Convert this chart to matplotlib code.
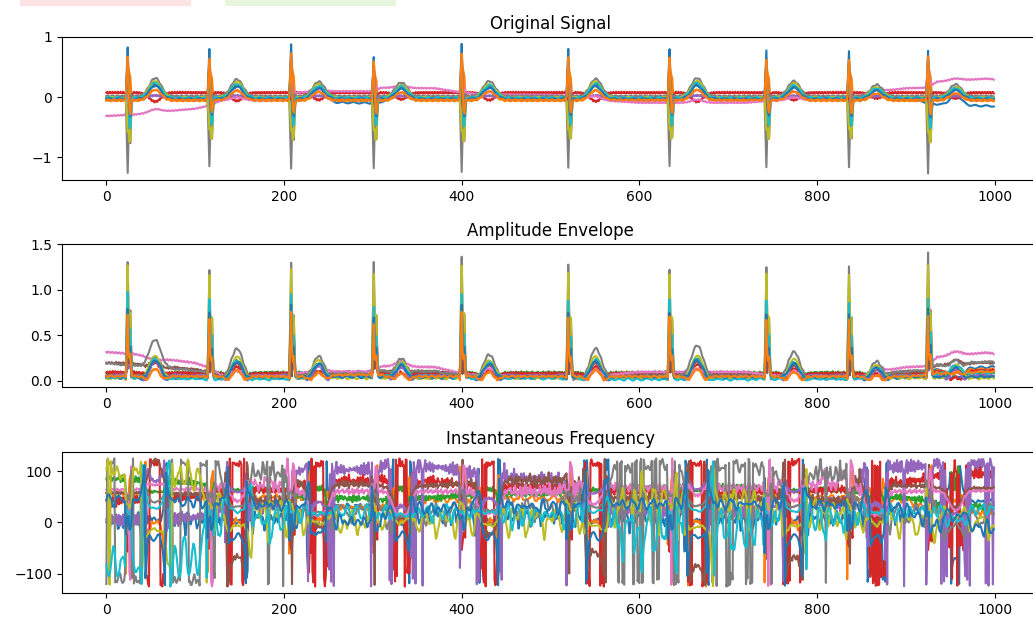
import numpy as np
import matplotlib
matplotlib.use("Agg")
import matplotlib.pyplot as plt
from matplotlib.patches import Rectangle

# ---------------- data ----------------
FS = 250                      # sampling rate (frequency axis spans +-125)
N_SAMPLES = 1000
R_POS = [24, 116, 208, 301, 400, 520, 634, 743, 836, 925]        # R-peak sample index
R_SCALE = [1.00, 0.95, 1.06, 0.88, 1.06, 0.97, 0.97, 0.93, 0.93, 1.00]
S_SCALE = [1.00, 0.90, 0.94, 0.94, 0.98, 0.92, 0.91, 0.91, 0.92, 1.00]
T_SCALE = [1.00, 0.93, 0.80, 0.75, 0.83, 0.95, 1.00, 0.83, 0.63, 0.65]

# per lead (12 leads, tab10 colour cycle order)
QRS_MAIN = [0.88, 0.72, 0.41, -0.12, 0.18, 0.41, 0.38, -1.29, -0.55, 0.43, 0.67, 0.72]
QRS_LATE = [-0.42, 0.44, 0.00, -0.64, -0.29, -0.81, 0.07, 0.04, -0.80, -0.56, -0.34, -0.27]
T_AMP = [0.25, 0.18, 0.22, -0.15, 0.03, 0.25, 0.05, 0.30, 0.28, 0.25, 0.22, 0.17]
OFFSET = [-0.029, -0.061, -0.003, 0.075, -0.002, -0.035, -0.023, 0.018, -0.006, -0.011,
          -0.029, -0.046]
JITTER_HZ = [20, 40, 50, 82, 95, 90, 65, 45, 12, 25, 22, 36]
JITTER_AMP = [0.011, 0.008, 0.011, 0.016, 0.014, 0.014, 0.008, 0.011, 0.011, 0.011, 0.011,
              0.008]

# baseline wander of the pink lead (sample, value)
PINK_X = [0, 30, 60, 100, 115, 130, 200, 215, 250, 300, 310, 370, 400, 420, 500, 530,
          560, 600, 720, 750, 830, 870, 900, 925, 935, 990, 999]
PINK_Y = [-0.29, -0.27, -0.22, -0.17, -0.12, -0.03, -0.02, 0.10, 0.12, 0.12, 0.18, 0.17,
          0.10, 0.07, 0.06, 0.03, -0.03, -0.07, -0.07, -0.03, -0.01, 0.12, 0.17, 0.18,
          0.28, 0.33, 0.32]
# blue lead drift (sample, value)
BLUE_X = [0, 230, 260, 300, 330, 900, 940, 999]
BLUE_Y = [0.00, 0.00, -0.06, -0.07, 0.00, 0.00, -0.10, -0.12]

# ---------------- build signals (samples x leads) ----------------
t = np.arange(N_SAMPLES)


def bump(center, width):
    return np.exp(-0.5 * ((t - center) / width) ** 2)


cols = []
for k in range(12):
    s = np.full(N_SAMPLES, OFFSET[k], dtype=float)
    for r, rs, ss, ts in zip(R_POS, R_SCALE, S_SCALE, T_SCALE):
        s += QRS_MAIN[k] * (rs if QRS_MAIN[k] > 0 else ss) * bump(r, 0.9)
        s += QRS_LATE[k] * (ss if QRS_LATE[k] < 0 else rs) * bump(r + 2.5, 1.0)
        s += T_AMP[k] * ts * bump(r + 31, 6.5)
    s += JITTER_AMP[k] * np.sin(2 * np.pi * JITTER_HZ[k] * t / FS)
    if k == 6:
        s += np.interp(t, PINK_X, PINK_Y)
    if k == 0:
        s += np.interp(t, BLUE_X, BLUE_Y)
    cols.append(s)
signal = np.column_stack(cols)          # shape (1000, 12)


def hilbert_last_axis(x):
    n = x.shape[-1]
    X = np.fft.fft(x, axis=-1)
    h = np.zeros(n)
    h[0] = 1
    if n % 2 == 0:
        h[n // 2] = 1
        h[1:n // 2] = 2
    else:
        h[1:(n + 1) // 2] = 2
    return np.fft.ifft(X * h, axis=-1)


analytic = hilbert_last_axis(signal)
envelope = np.abs(analytic)
phase = np.unwrap(np.angle(analytic))
inst_freq = np.diff(phase) / (2.0 * np.pi) * FS      # shape (1000, 11)

# ---------------- figure ----------------
fig = plt.figure(figsize=(10.33, 6.17), dpi=100)
L, W = 0.060, 0.945
ax1 = fig.add_axes([L, 1 - 180 / 617, W, 143 / 617])
ax2 = fig.add_axes([L, 1 - 387 / 617, W, 143 / 617])
ax3 = fig.add_axes([L, 1 - 593 / 617, W, 141 / 617])

ax1.plot(t, signal)
ax1.set_title("Original Signal")

ax2.plot(t, envelope)
ax2.set_title("Amplitude Envelope")

ax3.plot(t, inst_freq)
ax3.set_title("Instantaneous Frequency")

for ax in (ax1, ax2, ax3):
    ax.set_xticks([0, 200, 400, 600, 800, 1000])
ax1.set_yticks([-1, 0, 1])
ax2.set_yticks([0.0, 0.5, 1.0, 1.5])
ax3.set_yticks([-100, 0, 100])

# remnants of the surrounding document at the top edge
fig.patches.append(Rectangle((20 / 1033, 1 - 5 / 617), 170 / 1033, 5 / 617,
                             transform=fig.transFigure, color="#fde3e3", zorder=0))
fig.patches.append(Rectangle((225 / 1033, 1 - 5 / 617), 170 / 1033, 5 / 617,
                             transform=fig.transFigure, color="#e6f5dc", zorder=0))

fig.savefig("out.png", dpi=100)
